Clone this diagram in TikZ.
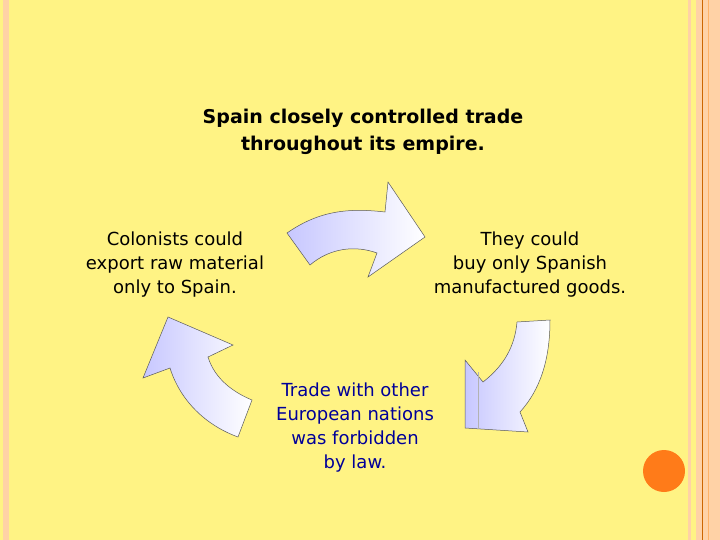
\documentclass[tikz,border=0pt]{standalone}
\usepackage{fontspec}
\setmainfont{DejaVu Sans}
\begin{document}
\begin{tikzpicture}[x=1pt,y=-1pt,
  txt/.style={align=center,font=\fontsize{18}{24}\selectfont,inner sep=0pt},
  arr/.style={draw=gray!70!black,line width=0.5pt,left color=blue!22,right color=white}]
\useasboundingbox (0,0) rectangle (720,540);
\fill[yellow!45!white!95!orange] (0,0) rectangle (720,540);
\fill[orange!35] (3,0) rectangle (9,540);
\fill[orange!35] (688,0) rectangle (691,540);
\fill[orange!35] (696,0) rectangle (720,540);
\draw[orange!80!black,line width=0.6pt] (702,0) -- (702,540);
\draw[orange!60,line width=0.6pt] (708,0) -- (708,540);
\node[circle,fill=orange!85!red!90,minimum size=42pt,inner sep=0pt] (dot) at (664,471) {};
\node[txt,font=\bfseries\fontsize{19}{27}\selectfont] (title) at (363,132) {Spain closely controlled trade\\throughout its empire.};
\node[txt] (left) at (175,265) {Colonists could\\export raw material\\only to Spain.};
\node[txt] (right) at (530,265) {They could\\buy only Spanish\\manufactured goods.};
\node[txt,text=blue!60!black] (bottom) at (355,428) {Trade with other\\European nations\\was forbidden\\by law.};
% top arrow
\draw[arr] (287,233) .. controls (320,210) and (350,208) .. (385,212) -- (388,182) -- (425,237) -- (368,277) -- (377,253) .. controls (355,245) and (330,248) .. (310,265) -- cycle;
% right arrow
\draw[arr] (517,322) -- (550,320) .. controls (550,360) and (540,390) .. (520,412) -- (528,432) -- (465,428) -- (465,360) -- (483,382) .. controls (505,365) and (515,345) .. (517,322) -- cycle;
\draw[gray!60,line width=0.4pt] (478,372) -- (478,429);
% left arrow
\draw[arr] (168,317) -- (233,345) -- (208,357) .. controls (215,380) and (235,393) .. (252,400) -- (238,437) .. controls (205,425) and (180,400) .. (170,368) -- (143,378) -- cycle;
\end{tikzpicture}
\end{document}
